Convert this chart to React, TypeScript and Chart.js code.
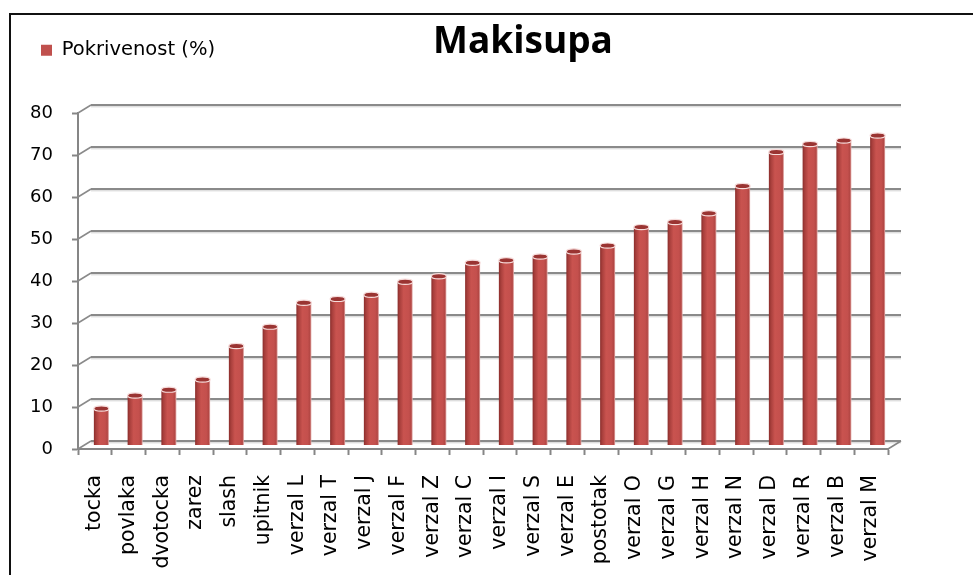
import React, { useEffect, useRef } from 'react';
import { Chart, registerables } from 'chart.js';

Chart.register(...registerables);

// ---- data ----
const chartTitle = 'Makisupa';
const seriesLabel = 'Pokrivenost (%)';
const categories = [
  'tocka', 'povlaka', 'dvotocka', 'zarez', 'slash', 'upitnik',
  'verzal L', 'verzal T', 'verzal J', 'verzal F', 'verzal Z', 'verzal C',
  'verzal I', 'verzal S', 'verzal E', 'postotak', 'verzal O', 'verzal G',
  'verzal H', 'verzal N', 'verzal D', 'verzal R', 'verzal B', 'verzal M',
];
const coverage = [
  8.8, 11.9, 13.3, 15.7, 23.7, 28.3,
  34.0, 34.9, 35.9, 39.0, 40.3, 43.5,
  44.1, 45.0, 46.2, 47.6, 52.0, 53.2,
  55.3, 61.8, 69.9, 71.8, 72.6, 73.8,
];
const yMin = 0;
const yMax = 80;
const yStep = 10;

// ---- style ----
const BAR_COLOR = '#C0504D';
const GRID_COLOR = '#8a8a8a';
const AXIS_COLOR = '#868686';
const DEPTH_X = 13;
const DEPTH_Y = -8;
const BAR_FRACTION = 0.445;
const FONT = '"DejaVu Sans", sans-serif';
const LEGEND_TOP = 30.5;

const wall3d = {
  id: 'wall3d',
  beforeDraw(chart: any) {
    const { ctx, width, height } = chart;
    const lg = chart.legend;
    if (lg) {
      const h = lg.height;
      lg.top = LEGEND_TOP;
      lg.bottom = LEGEND_TOP + h;
    }
    ctx.save();
    ctx.fillStyle = '#ffffff';
    ctx.fillRect(0, 0, width, height);
    ctx.strokeStyle = '#111111';
    ctx.lineWidth = 2;
    ctx.beginPath();
    ctx.moveTo(10, height + 5);
    ctx.lineTo(10, 14);
    ctx.lineTo(width + 5, 14);
    ctx.stroke();
    ctx.restore();
  },
  beforeDatasetsDraw(chart: any) {
    const { ctx, chartArea } = chart;
    const ys = chart.scales.y;
    ctx.save();
    ctx.lineCap = 'butt';
    for (let v = yMin; v <= yMax; v += yStep) {
      const y = ys.getPixelForValue(v);
      ctx.strokeStyle = '#d2d2d2';
      ctx.lineWidth = 1;
      ctx.beginPath();
      ctx.moveTo(chartArea.left + DEPTH_X, y + DEPTH_Y + 1.8);
      ctx.lineTo(chartArea.right + DEPTH_X, y + DEPTH_Y + 1.8);
      ctx.stroke();
      ctx.strokeStyle = GRID_COLOR;
      ctx.lineWidth = 2.2;
      ctx.beginPath();
      ctx.moveTo(chartArea.left + DEPTH_X, y + DEPTH_Y);
      ctx.lineTo(chartArea.right + DEPTH_X, y + DEPTH_Y);
      ctx.stroke();
      ctx.lineWidth = 1.5;
      ctx.beginPath();
      ctx.moveTo(chartArea.left, y);
      ctx.lineTo(chartArea.left + DEPTH_X, y + DEPTH_Y);
      ctx.stroke();
    }
    ctx.strokeStyle = AXIS_COLOR;
    ctx.lineWidth = 1.5;
    ctx.beginPath();
    ctx.moveTo(chartArea.right, chartArea.bottom);
    ctx.lineTo(chartArea.right + DEPTH_X, chartArea.bottom + DEPTH_Y);
    ctx.stroke();
    ctx.restore();
    ctx.save();
    ctx.translate(DEPTH_X / 2, DEPTH_Y / 2 + 0.5);
  },
  afterDatasetsDraw(chart: any) {
    const { ctx } = chart;
    const meta = chart.getDatasetMeta(0);
    meta.data.forEach((bar: any) => {
      const rx = bar.width / 2;
      ctx.beginPath();
      ctx.ellipse(bar.x, bar.y, rx, 2.6, 0, 0, Math.PI * 2);
      ctx.fillStyle = '#9a3432';
      ctx.fill();
      ctx.lineWidth = 1.2;
      ctx.strokeStyle = '#f6dcdb';
      ctx.stroke();
    });
    ctx.restore();
  },
  afterDraw(chart: any) {
    const { ctx } = chart;
    ctx.save();
    ctx.fillStyle = '#000000';
    ctx.font = 'bold 37px "Open Sans", sans-serif';
    ctx.textAlign = 'center';
    ctx.textBaseline = 'alphabetic';
    ctx.fillText(chartTitle, 523, 53);
    ctx.restore();
  },
};

function barFill(c: any) {
  if (c.type !== 'data') return BAR_COLOR;
  const chart = c.chart;
  const xs = chart.scales && chart.scales.x;
  if (!xs || !chart.chartArea) return BAR_COLOR;
  const cx = xs.getPixelForValue(c.dataIndex);
  const w = (xs.width / categories.length) * BAR_FRACTION;
  const g = chart.ctx.createLinearGradient(cx - w / 2, 0, cx + w / 2, 0);
  g.addColorStop(0, '#8a2d2b');
  g.addColorStop(0.14, '#a83f3c');
  g.addColorStop(0.4, '#c9534f');
  g.addColorStop(0.75, '#c4504d');
  g.addColorStop(0.9, '#b34744');
  g.addColorStop(1, '#e6b3b1');
  return g;
}

export default function App() {
  const ref = useRef<HTMLCanvasElement | null>(null);

  useEffect(() => {
    if (!ref.current) return;
    const chart = new Chart(ref.current, {
      type: 'bar',
      data: {
        labels: categories,
        datasets: [
          {
            label: seriesLabel,
            data: coverage,
            backgroundColor: barFill as any,
            borderWidth: 0,
            barPercentage: BAR_FRACTION,
            categoryPercentage: 1,
            clip: false as any,
          },
        ],
      },
      options: {
        responsive: false,
        animation: false,
        devicePixelRatio: 1,
        layout: { padding: { top: 29, left: 31, right: 85, bottom: 0 } },
        plugins: {
          title: { display: false },
          tooltip: { enabled: false },
          legend: {
            display: true,
            position: 'top',
            align: 'start',
            labels: {
              boxWidth: 11,
              boxHeight: 11,
              padding: 10,
              color: '#000000',
              font: { family: FONT, size: 19.5 },
              generateLabels: (ch: any) =>
                (Chart.defaults as any).plugins.legend.labels
                  .generateLabels(ch)
                  .map((l: any) => ({ ...l, fillStyle: BAR_COLOR, strokeStyle: BAR_COLOR, lineWidth: 0 })),
            },
          },
        },
        scales: {
          x: {
            grid: {
              display: true,
              drawOnChartArea: false,
              drawTicks: true,
              tickLength: 6,
              tickWidth: 2,
              tickColor: AXIS_COLOR,
              offset: true,
            },
            border: { display: true, color: AXIS_COLOR, width: 2 },
            ticks: {
              autoSkip: false,
              minRotation: 90,
              maxRotation: 90,
              padding: 20,
              color: '#000000',
              font: { family: FONT, size: 20.5 },
            },
            afterFit: (s: any) => {
              s.height = 126;
            },
          },
          y: {
            min: yMin,
            max: yMax,
            grid: {
              display: true,
              drawOnChartArea: false,
              drawTicks: true,
              tickLength: 6,
              tickWidth: 2,
              tickColor: AXIS_COLOR,
            },
            border: { display: true, color: AXIS_COLOR, width: 2 },
            ticks: {
              stepSize: yStep,
              padding: 19,
              color: '#000000',
              font: { family: FONT, size: 18 },
            },
            afterFit: (s: any) => {
              s.width = 47;
              s.paddingTop = 113;
            },
          },
        },
      },
      plugins: [wall3d],
    });
    return () => chart.destroy();
  }, []);

  return (
    <div style={{ position: 'absolute', left: 0, top: 0, width: 973, height: 575, overflow: 'hidden' }}>
      <canvas ref={ref} width={973} height={575} style={{ display: 'block' }} />
    </div>
  );
}
